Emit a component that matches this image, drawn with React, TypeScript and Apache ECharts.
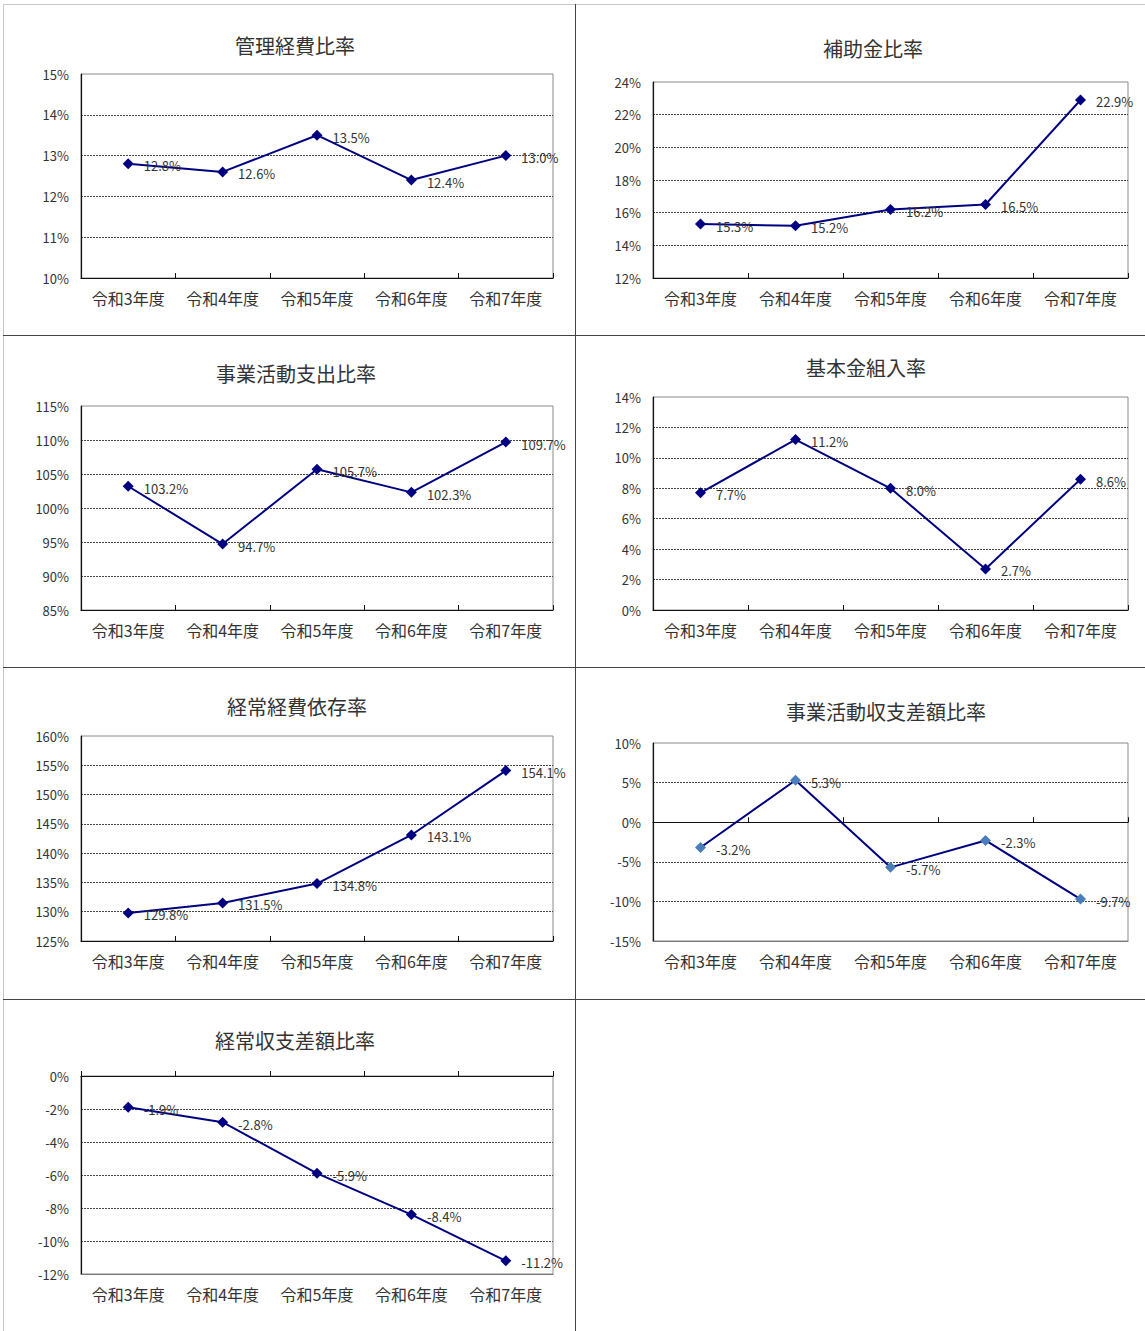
import React, { useEffect, useRef } from "react";
import * as echarts from "echarts";

const categories = ["令和3年度", "令和4年度", "令和5年度", "令和6年度", "令和7年度"];

const titles = [
  "管理経費比率",
  "補助金比率",
  "事業活動支出比率",
  "基本金組入率",
  "経常経費依存率",
  "事業活動収支差額比率",
  "経常収支差額比率",
];

const kanriKeihi = [12.8, 12.6, 13.5, 12.4, 13.0];
const hojokin = [15.3, 15.2, 16.2, 16.5, 22.9];
const jigyoShishutsu = [103.2, 94.7, 105.7, 102.3, 109.7];
const kihonkin = [7.7, 11.2, 8.0, 2.7, 8.6];
const keijoIzon = [129.8, 131.5, 134.8, 143.1, 154.1];
const jigyoSagaku = [-3.2, 5.3, -5.7, -2.3, -9.7];
const keijoSagaku = [-1.9, -2.8, -5.9, -8.4, -11.2];

const seriesData = [kanriKeihi, hojokin, jigyoShishutsu, kihonkin, keijoIzon, jigyoSagaku, keijoSagaku];

const yRanges = [
  { min: 10, max: 15, interval: 1 },
  { min: 12, max: 24, interval: 2 },
  { min: 85, max: 115, interval: 5 },
  { min: 0, max: 14, interval: 2 },
  { min: 125, max: 160, interval: 5 },
  { min: -15, max: 10, interval: 5 },
  { min: -12, max: 0, interval: 2 },
];

// layout (pixels)
const grids = [
  { left: 81, top: 74, width: 472, height: 204 },
  { left: 653, top: 82, width: 475, height: 196 },
  { left: 81, top: 406, width: 472, height: 204 },
  { left: 653, top: 397, width: 475, height: 213 },
  { left: 81, top: 736, width: 472, height: 205 },
  { left: 653, top: 743, width: 475, height: 198 },
  { left: 81, top: 1076, width: 472, height: 198 },
];
const titlePos = [
  [295, 45],
  [873, 48],
  [296, 373],
  [866, 367],
  [297, 706],
  [886, 711],
  [295, 1040],
];
const markerColors = ["#000080", "#000080", "#000080", "#000080", "#000080", "#4a7ebb", "#000080"];
const hasZeroLine = [false, false, false, false, false, true, true];

const FONT = "'Noto Sans CJK JP', 'Noto Sans', sans-serif";

export default function App() {
  const ref = useRef<HTMLDivElement>(null);
  useEffect(() => {
    if (!ref.current) return;
    const chart = echarts.init(ref.current, null, { renderer: "svg" });

    const gridOpts: any[] = [];
    const xAxes: any[] = [];
    const yAxes: any[] = [];
    const series: any[] = [];
    const graphics: any[] = [];

    for (let i = 0; i < 7; i++) {
      gridOpts.push({ ...grids[i], show: true, borderColor: "#8a8a8a", borderWidth: 1, backgroundColor: "#fff" });
      xAxes.push({
        type: "category",
        gridIndex: i,
        data: categories,
        position: "bottom",
        boundaryGap: true,
        axisLine: { show: true, onZero: false, lineStyle: { color: hasZeroLine[i] ? "#777" : "#111", width: 1.2 } },
        axisTick: { show: !hasZeroLine[i], inside: true, length: 5, lineStyle: { color: "#111" } },
        axisLabel: { color: "#333", fontSize: 16, fontFamily: FONT, margin: 12, interval: 0 },
        splitLine: { show: false },
      });
      const xIndex = xAxes.length - 1;
      let zeroAxisIdx = -1;
      if (hasZeroLine[i]) {
        xAxes.push({
          type: "category",
          gridIndex: i,
          data: categories,
          position: "bottom",
          boundaryGap: true,
          axisLine: { show: true, onZero: true, lineStyle: { color: "#111", width: 1.2 } },
          axisTick: { show: true, inside: true, length: 5, lineStyle: { color: "#111" } },
          axisLabel: { show: false },
          splitLine: { show: false },
        });
        zeroAxisIdx = xAxes.length - 1;
      }
      yAxes.push({
        type: "value",
        gridIndex: i,
        min: yRanges[i].min,
        max: yRanges[i].max,
        interval: yRanges[i].interval,
        axisLine: { show: true, lineStyle: { color: "#111", width: 1.2 } },
        axisTick: { show: false },
        axisLabel: { color: "#333", fontSize: 13, fontFamily: FONT, margin: 12, formatter: "{value}%" },
        splitLine: {
          show: true,
          showMinLine: false,
          showMaxLine: false,
          lineStyle: { color: "#444", type: [2, 1], width: 1 },
        },
      });
      series.push({
        type: "line",
        xAxisIndex: xIndex,
        yAxisIndex: i,
        data: seriesData[i],
        symbol: "diamond",
        symbolSize: 11,
        lineStyle: { color: "#000080", width: 2 },
        itemStyle: { color: markerColors[i] },
        z: 5,
        label: {
          show: true,
          position: "right",
          distance: 10,
          offset: [0, 2],
          color: "#333",
          fontSize: 13,
          fontFamily: FONT,
          formatter: (p: any) => p.value.toFixed(1) + "%",
        },
      });
      if (zeroAxisIdx >= 0) {
        series.push({
          type: "line",
          xAxisIndex: zeroAxisIdx,
          yAxisIndex: i,
          data: [],
          silent: true,
        });
      }
      graphics.push({
        type: "text",
        x: titlePos[i][0],
        y: titlePos[i][1],
        style: {
          text: titles[i],
          fill: "#333",
          font: `20px ${FONT}`,
          textAlign: "center",
          textVerticalAlign: "middle",
        },
      });
    }

    const lines = [
      { x1: 3, y1: 4.5, x2: 1145, y2: 4.5, c: "#c8c8c8" },
      { x1: 3.5, y1: 4, x2: 3.5, y2: 1331, c: "#c8c8c8" },
      { x1: 575.5, y1: 4, x2: 575.5, y2: 1331, c: "#444" },
      { x1: 3, y1: 335.5, x2: 1145, y2: 335.5, c: "#444" },
      { x1: 3, y1: 667.5, x2: 1145, y2: 667.5, c: "#444" },
      { x1: 3, y1: 999.5, x2: 1145, y2: 999.5, c: "#444" },
    ];
    for (const l of lines) {
      graphics.push({
        type: "line",
        shape: { x1: l.x1, y1: l.y1, x2: l.x2, y2: l.y2 },
        style: { stroke: l.c, lineWidth: 1 },
        z: 100,
      });
    }

    chart.setOption({
      animation: false,
      backgroundColor: "#fff",
      grid: gridOpts,
      xAxis: xAxes,
      yAxis: yAxes,
      series,
      graphic: graphics,
    });
    return () => chart.dispose();
  }, []);
  return (
    <div
      ref={ref}
      style={{ position: "absolute", left: 0, top: 0, width: 1145, height: 1331 }}
    />
  );
}
